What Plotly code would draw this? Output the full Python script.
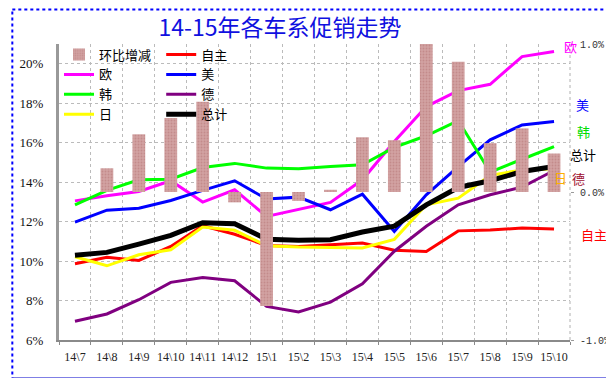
import plotly.graph_objects as go

months = ["14\\7", "14\\8", "14\\9", "14\\10", "14\\11", "14\\12", "15\\1", "15\\2",
          "15\\3", "15\\4", "15\\5", "15\\6", "15\\7", "15\\8", "15\\9", "15\\10"]

# month-on-month change (right axis, %)
mom_change = [0.0, 0.16, 0.39, 0.50, 0.61, -0.07, -0.77, -0.06,
              0.015, 0.37, 0.35, 1.0, 0.88, 0.33, 0.43, 0.26]

zizhu = [9.86, 10.19, 10.03, 10.74, 11.79, 11.36, 10.79, 10.74,
         10.83, 10.91, 10.55, 10.49, 11.53, 11.58, 11.67, 11.62]
ou = [13.05, 13.31, 13.53, 14.07, 12.99, 13.61, 12.26, 12.60,
      12.97, 14.12, 16.06, 17.83, 18.64, 18.96, 20.36, 20.62]
mei = [11.97, 12.58, 12.68, 13.07, 13.58, 14.07, 13.14, 13.24,
       12.60, 13.39, 11.50, 13.36, 14.79, 16.14, 16.90, 17.07]
han = [12.85, 13.58, 14.12, 14.15, 14.74, 14.95, 14.71, 14.68,
       14.79, 14.88, 15.76, 16.35, 17.12, 14.51, 15.16, 15.80]
de = [6.95, 7.32, 8.04, 8.92, 9.17, 9.00, 7.70, 7.42,
      7.92, 8.85, 10.50, 11.76, 12.85, 13.36, 13.75, 14.59]
ri = [10.22, 9.76, 10.32, 10.57, 11.72, 11.56, 10.78, 10.71,
      10.69, 10.66, 11.10, 12.85, 13.19, 14.34, 14.62, 14.68]
total = [10.29, 10.44, 10.86, 11.30, 11.94, 11.89, 11.11, 11.05,
         11.08, 11.47, 11.77, 12.85, 13.73, 14.07, 14.54, 14.79]

left_ticks = [6, 8, 10, 12, 14, 16, 18, 20]
left_ticktext = ["6%", "8%", "10%", "12%", "14%", "16%", "18%", "20%"]
right_ticks = [-1, 0, 1]
right_ticktext = ["-1.0%", "0.0%", "1.0%"]

title_text = "14-15年各车系促销走势"

fig = go.Figure()

fig.add_trace(go.Bar(
    x=months, y=mom_change, yaxis="y2", name="环比增减", width=0.4,
    marker=dict(color="#CC9A9A", line=dict(width=0),
                pattern=dict(shape=".", fgcolor="#B47474", bgcolor="#D2A2A2",
                             size=3, solidity=0.3)),
    legend="legend",
))

series = [
    ("自主", zizhu, "#FF0000", 3, "legend2"),
    ("欧", ou, "#FF00FF", 3, "legend"),
    ("美", mei, "#0000FF", 3, "legend2"),
    ("韩", han, "#00FF00", 3, "legend"),
    ("德", de, "#800080", 3, "legend2"),
    ("日", ri, "#FFFF00", 3, "legend"),
    ("总计", total, "#000000", 5, "legend2"),
]
for name, vals, color, w, lg in series:
    fig.add_trace(go.Scatter(
        x=months, y=vals, name=name, mode="lines",
        line=dict(color=color, width=w), legend=lg,
    ))

L, R, T, B = 49, 45, 36, 46
W, H = 614, 378
pw, ph = W - L - R, H - T - B

def px(xp):
    return (xp - L) / pw

def py(yp):
    return (H - B - yp) / ph

shapes = [
    dict(type="line", xref="paper", yref="paper", x0=1, x1=1, y0=0, y1=1,
         line=dict(color="#B0B0B0", width=1, dash="dot")),
    dict(type="rect", xref="paper", yref="paper", x0=px(1.5), x1=px(608), y0=py(1.5), y1=py(371),
         line=dict(color="#0000FF", width=2, dash="dot"), layer="above"),
    dict(type="line", xref="paper", yref="paper", x0=px(1.5), x1=px(608), y0=py(371), y1=py(371),
         line=dict(color="#0000CC", width=3)),
    dict(type="line", xref="paper", yref="paper", x0=px(608), x1=px(608), y0=py(1.5), y1=py(371),
         line=dict(color="#0000CC", width=3)),
    dict(type="line", xref="paper", yref="paper", x0=px(611.5), x1=px(611.5), y0=py(1), y1=py(375),
         line=dict(color="#000000", width=2, dash="dot")),
    dict(type="line", xref="paper", yref="paper", x0=px(1), x1=px(612), y0=py(375), y1=py(375),
         line=dict(color="#000000", width=2, dash="dot")),
]

labels = [
    ("欧", 570, 38, "#FF00FF"),
    ("美", 582, 97, "#0000FF"),
    ("韩", 583, 123, "#00DD00"),
    ("总计", 582, 146, "#000000"),
    ("日", 559, 169, "#FFB000"),
    ("德", 578, 171, "#A01030"),
    ("自主", 593, 226, "#FF0000"),
]
annotations = [
    dict(text=t, x=px(xc), y=py(yc), xref="paper", yref="paper", showarrow=False,
         xanchor="center", yanchor="middle",
         font=dict(family="Noto Sans CJK SC", size=13, color=c))
    for t, xc, yc, c in labels
]

legend_font = dict(family="Noto Sans CJK SC", size=13, color="#000000")

fig.update_layout(
    width=W, height=H,
    margin=dict(l=L, r=R, t=T, b=B),
    paper_bgcolor="white", plot_bgcolor="white",
    title=dict(text=title_text, x=272 / W, xanchor="center", y=1 - 20 / H, yanchor="middle",
               font=dict(family="Noto Sans CJK SC", size=23, color="#1010E0")),
    barmode="overlay",
    xaxis=dict(
        type="category", range=[-0.5, 15.5], tickson="boundaries",
        showgrid=True, gridcolor="#BBBBBB", griddash="dot", gridwidth=1,
        showline=True, linecolor="#8A8A8A", linewidth=2,
        ticks="outside", ticklen=3, tickcolor="#8A8A8A", tickangle=0,
        ticklabelstandoff=5,
        tickfont=dict(family="Liberation Serif", size=12, color="#222222"),
    ),
    yaxis=dict(
        range=[6, 21], tickvals=left_ticks, ticktext=left_ticktext,
        showgrid=True, gridcolor="#BBBBBB", griddash="dot", gridwidth=1,
        showline=True, linecolor="#999999", linewidth=3, zeroline=False,
        ticks="", ticklabelstandoff=10,
        tickfont=dict(family="Liberation Serif", size=13, color="#111111"),
    ),
    yaxis2=dict(
        overlaying="y", side="right", range=[-1, 1],
        tickvals=right_ticks, ticktext=right_ticktext,
        showgrid=False, zeroline=False, showline=False,
        ticks="outside", ticklen=3, tickcolor="#999999", ticklabelstandoff=4,
        tickfont=dict(family="Liberation Mono", size=10, color="#333333"),
    ),
    legend=dict(x=0.0, y=1.015, xanchor="left", yanchor="top", bgcolor="rgba(0,0,0,0)",
                font=legend_font, traceorder="normal", tracegroupgap=0),
    legend2=dict(x=0.2, y=1.015, xanchor="left", yanchor="top", bgcolor="rgba(0,0,0,0)",
                 font=legend_font, traceorder="normal", tracegroupgap=0),
    shapes=shapes,
    annotations=annotations,
    showlegend=True,
)

fig.write_html("out.html")
